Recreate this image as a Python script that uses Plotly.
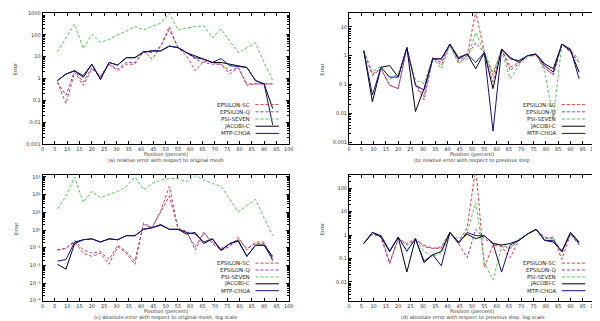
import numpy as np
import plotly.graph_objects as go

# sample positions (percent)
x_pos = [6, 9.5, 13, 16.5, 20, 23.5, 27, 30.5, 34, 37.5, 41, 44.5, 48,
         51.5, 55, 58.5, 62, 65.5, 69, 72.5, 76, 79.5, 83, 86.5, 90, 93.5]
x_ticks = list(range(0, 101, 5))

names = ["EPSILON-SC", "EPSILON-Q", "PSI-SEVEN", "JACOBI-C", "MTP-CHOA"]
colors = ["#e8383a", "#9a3fb0", "#4ccf4c", "#000000", "#10108c"]
dashes = ["3px,2px", "3px,2px", "3px,2px", "solid", "solid"]

# values are log10 of the plotted quantity
tl_red = [-0.17, -1.15, 0.28, -0.32, 0.43, 0.13, 0.65, 0.35, 0.65, 0.65, 1.26, 0.88, 1.48,
          2.38, 1.41, 1.03, 0.35, 0.80, 0.73, 0.65, 0.20, 0.50, -0.32, -0.25, -0.25, -0.25]
tl_purple = [-0.17, -0.77, 0.35, -0.17, 0.50, 0.05, 0.65, 0.43, 0.73, 0.73, 1.21, 1.18, 1.48,
             2.23, 1.41, 1.18, 0.88, 0.73, 0.65, 0.65, 0.35, 0.50, -0.25, -0.25, -0.25, -0.25]
tl_green = [1.21, 1.86, 2.50, 1.36, 2.01, 1.66, 1.78, 2.01, 2.16, 2.38, 2.23, 2.38, 2.53,
            2.98, 2.23, 2.31, 2.38, 2.41, 1.86, 2.26, 1.71, 1.18, 1.41, 1.63, 0.73, -0.10]
tl_black = [-0.10, 0.20, 0.35, 0.05, 0.65, -0.05, 0.73, 0.61, 0.95, 0.95, 1.21, 1.26, 1.26,
            1.48, 1.41, 1.18, 1.03, 0.88, 0.73, 0.73, 0.65, 0.55, 0.50, -0.10, -0.25, -1.38]
tl_blue = [-0.10, 0.20, 0.35, 0.13, 0.65, -0.02, 0.73, 0.61, 0.95, 0.95, 1.21, 1.26, 1.26,
           1.48, 1.41, 1.18, 0.95, 0.88, 0.73, 0.91, 0.58, 0.55, 0.50, -0.10, -0.25, -2.13]

tr_red = [0.17, -0.63, -0.45, -1.02, -1.14, 0.28, -0.97, -1.42, -0.06, -0.34, 0.40, -0.28, 0.00,
          1.53, 0.11, -0.68, 0.23, -0.40, -0.23, 0.00, 0.00, -0.40, -0.68, 0.40, 0.11, -0.23]
tr_purple = [0.17, -0.68, -0.45, -1.02, -1.14, 0.28, -1.02, -1.53, -0.11, -0.23, 0.40, -0.17, 0.00,
             0.45, 0.11, -0.91, 0.23, -0.51, -0.28, 0.00, 0.06, -0.45, -0.63, 0.40, 0.17, -0.23]
tr_green = [0.17, -0.57, -0.34, -0.80, -0.63, 0.23, -0.85, -0.97, -0.06, -0.45, 0.34, -0.23, -0.11,
            0.80, 0.11, -0.57, 0.17, -0.80, -0.34, -0.06, 0.06, -0.57, -2.16, 0.40, 0.17, -0.11]
tr_black = [0.17, -1.59, -0.40, -0.34, -0.74, 0.28, -1.93, -1.14, -0.11, -0.11, 0.40, -0.11, 0.06,
            -0.45, 0.11, -1.14, 0.23, -0.06, -0.23, 0.00, 0.06, -0.28, -0.45, 0.40, 0.17, -0.57]
tr_blue = [0.17, -1.36, -0.40, -0.74, -0.74, 0.28, -1.02, -1.19, -0.11, -0.11, 0.40, -0.06, 0.06,
           -0.23, 0.11, -2.61, 0.23, -0.11, -0.17, 0.00, 0.06, -0.34, -0.57, 0.40, 0.23, -0.80]

bl_red = [-1.13, -1.04, -0.68, -1.31, -1.49, -1.31, -1.94, -0.95, -1.31, -1.94, 0.40, 0.13, 1.11,
          2.46, 0.04, -0.05, -1.13, -0.14, -0.77, -1.13, -0.95, -0.41, -1.13, -0.68, -0.68, -1.76]
bl_purple = [-1.13, -1.04, -0.59, -1.13, -1.31, -1.22, -1.67, -0.86, -1.22, -1.76, 0.31, 0.13, 1.03,
             1.92, 0.13, -0.14, -0.95, -0.14, -0.68, -1.04, -0.86, -0.50, -1.04, -0.77, -0.77, -1.58]
bl_green = [1.20, 1.92, 3.00, 1.56, 2.19, 1.83, 2.01, 2.19, 2.46, 3.00, 2.28, 2.64, 2.82,
            2.91, 2.91, 2.73, 3.09, 2.82, 2.64, 2.46, 1.74, 1.03, 1.38, 1.74, 0.67, -0.32]
bl_black = [-1.94, -2.21, -0.77, -0.55, -0.50, -0.68, -0.50, -0.55, -0.32, -0.32, 0.04, 0.13, 0.31,
            0.04, 0.04, -0.23, -0.14, -0.77, -0.50, -1.13, -0.77, -0.59, -1.49, -0.86, -0.86, -1.49]
bl_blue = [-1.76, -1.67, -0.68, -0.55, -0.50, -0.68, -0.50, -0.55, -0.32, -0.32, 0.04, 0.13, 0.27,
           0.04, 0.04, -0.14, -0.23, -0.68, -0.50, -1.17, -0.77, -0.63, -1.49, -0.86, -0.86, -1.67]

br_red = [-0.36, 0.04, -0.09, -1.24, -0.16, -0.36, -0.16, -0.50, -0.57, -0.57, 0.11, -0.30, 0.31,
          2.88, -1.38, -0.43, -0.50, -0.97, -0.23, 0.04, 0.24, -0.16, -0.09, -1.04, 0.04, -0.30]
br_purple = [-0.36, 0.04, -0.03, -1.18, -0.16, -0.43, -0.23, -0.43, -0.57, -0.50, 0.11, -0.36, -0.97,
             0.24, -0.16, -0.36, -0.43, -0.57, -0.23, 0.04, 0.24, -0.09, -0.16, -0.70, 0.04, -0.43]
br_green = [-0.36, 0.04, -0.03, -0.64, -0.09, -0.64, -0.16, -0.70, -0.91, -0.77, 0.04, -0.16, 0.11,
            1.39, -1.18, -1.92, -0.50, -0.57, -0.16, 0.04, 0.24, -0.16, -0.16, -0.77, 0.04, -0.36]
br_black = [-0.36, 0.11, -0.03, -0.70, -0.09, -1.58, -0.16, -1.18, -0.84, -0.70, 0.11, -0.30, 0.04,
            -0.16, -0.03, -0.36, -0.43, -0.36, -0.23, 0.04, 0.24, -0.23, -0.30, -0.70, 0.11, -0.30]
br_blue = [-0.36, 0.11, -0.09, -0.70, -0.09, -0.70, -0.16, -1.11, -0.84, -1.31, 0.11, -0.36, 0.11,
           -0.03, -0.03, -0.36, -1.58, -0.43, -0.23, 0.04, 0.24, -0.23, -0.23, -0.70, 0.11, -0.36]

panels = [
    dict(series=[tl_red, tl_purple, tl_green, tl_black, tl_blue],
         yrange=[-3, 3], exps=[-3, -2, -1, 0, 1, 2, 3],
         labels=["0.001", "0.01", "0.1", "1", "10", "100", "1000"],
         xdom=[0.055, 0.47], ydom=[0.5763, 0.9907],
         title1="Position (percent)",
         title2="(a) relative error with respect to original mesh"),
    dict(series=[tr_red, tr_purple, tr_green, tr_black, tr_blue],
         yrange=[-3.05, 1.48], exps=[-3, -2, -1, 0, 1],
         labels=["0.001", "0.01", "0.1", "1", "10"],
         xdom=[0.5717, 0.9867], ydom=[0.5763, 0.9907],
         title1="Position (percent)",
         title2="(b) relative error with respect to previous step"),
    dict(series=[bl_red, bl_purple, bl_green, bl_black, bl_blue],
         yrange=[-4, 3.09], exps=[-4, -3, -2, -1, 0, 1, 2, 3],
         labels=["10⁻⁴", "10⁻³", "10⁻²", "10⁻¹", "10⁰", "10¹", "10²", "10³"],
         xdom=[0.055, 0.47], ydom=[0.08, 0.4766],
         title1="Position (percent)",
         title2="(c) absolute error with respect to original mesh, log scale"),
    dict(series=[br_red, br_purple, br_green, br_black, br_blue],
         yrange=[-2.8, 2.54], exps=[-2, -1, 0, 1, 2],
         labels=["0.01", "0.1", "1", "10", "100"],
         xdom=[0.5717, 0.9867], ydom=[0.08, 0.4766],
         title1="Position (percent)",
         title2="(d) absolute error with respect to previous step, log scale"),
]

fig = go.Figure()
tick_font = dict(size=5, color="#333", family="DejaVu Sans")
small_font = dict(size=5, color="#333", family="DejaVu Sans")
legend_rows = [0.30, 0.245, 0.19, 0.135, 0.08]
annotations = []
shapes = []

for k, p in enumerate(panels, start=1):
    sfx = "" if k == 1 else str(k)
    for name, vals, col, dash in zip(names, p["series"], colors, dashes):
        fig.add_trace(go.Scatter(
            x=x_pos, y=10 ** np.array(vals), mode="lines", name=name,
            line=dict(color=col, width=1, dash=dash),
            xaxis="x" + sfx, yaxis="y" + sfx, showlegend=False,
        ))

    fig.layout["xaxis" + sfx] = dict(
        domain=p["xdom"], anchor="y" + sfx, range=[0, 100],
        tickmode="array", tickvals=x_ticks, ticktext=[str(t) for t in x_ticks],
        ticks="inside", ticklen=3, tickcolor="black", tickfont=tick_font,
        showline=True, linecolor="black", linewidth=1, mirror="ticks",
        showgrid=False, zeroline=False,
    )
    fig.layout["yaxis" + sfx] = dict(
        domain=p["ydom"], anchor="x" + sfx, type="log", range=p["yrange"],
        tickmode="array", tickvals=[10.0 ** e for e in p["exps"]], ticktext=p["labels"],
        ticks="inside", ticklen=3, tickcolor="black", tickfont=tick_font,
        minor=dict(ticks="inside", ticklen=2, tickcolor="black", dtick="D1", showgrid=False),
        showline=True, linecolor="black", linewidth=1, mirror="ticks",
        showgrid=False, zeroline=False,
    )

    # axis titles placed like gnuplot's, close under the tick labels
    xmid = (p["xdom"][0] + p["xdom"][1]) / 2
    ybot = p["ydom"][0]
    annotations.append(dict(text=p["title1"], xref="paper", yref="paper", x=xmid, y=ybot - 0.033,
                            xanchor="center", yanchor="middle", showarrow=False, font=small_font))
    annotations.append(dict(text=p["title2"], xref="paper", yref="paper", x=xmid, y=ybot - 0.053,
                            xanchor="center", yanchor="middle", showarrow=False, font=small_font))
    annotations.append(dict(text="Error", xref="paper", yref="paper",
                            x=p["xdom"][0] - 0.046, y=(p["ydom"][0] + p["ydom"][1]) / 2 + 0.03,
                            xanchor="center", yanchor="middle", textangle=-90, showarrow=False,
                            font=small_font))

    # gnuplot-style key: text on the left, sample line on the right
    for name, col, dash, yy in zip(names, colors, dashes, legend_rows):
        annotations.append(dict(
            text=name, xref="x%s domain" % sfx, yref="y%s domain" % sfx,
            x=0.85, y=yy, xanchor="right", yanchor="middle", showarrow=False,
            font=dict(size=5.5, color="#222", family="DejaVu Sans"),
        ))
        shapes.append(dict(
            type="line", xref="x%s domain" % sfx, yref="y%s domain" % sfx,
            x0=0.865, x1=0.96, y0=yy, y1=yy,
            line=dict(color=col, width=1, dash=dash),
        ))

fig.update_layout(
    width=600, height=321,
    margin=dict(l=0, r=0, t=0, b=0),
    paper_bgcolor="white", plot_bgcolor="white",
    annotations=annotations, shapes=shapes,
    showlegend=False,
)

fig.write_html("out.html")
